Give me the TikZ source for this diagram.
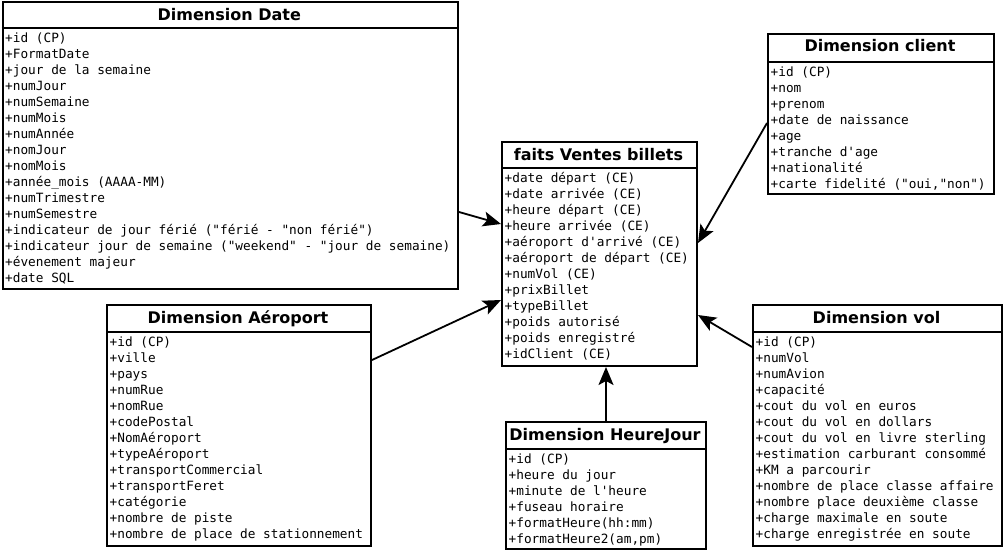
\documentclass[tikz,border=0pt]{standalone}
\usepackage{fontspec}
\setmainfont{DejaVu Sans}
\newfontfamily\attrfont{DejaVu Sans Mono}
\usetikzlibrary{arrows.meta}
\tikzset{
  box/.style={draw, line width=2pt, inner sep=0pt, anchor=north west},
  sepline/.style={line width=1.6pt},
  ctitle/.style={font=\bfseries\fontsize{16}{18}\selectfont, inner sep=0pt, anchor=base},
  attr/.style={font=\attrfont\fontsize{12.75}{16}\selectfont, inner sep=0pt, anchor=base west},
  arr/.style={line width=1.8pt, -{Stealth[length=18pt,width=15pt,inset=4pt]}}
}
% name, x1, y1, x2, y2, separator y, title, attribute list
\newcommand\UMLclass[8]{%
  \node[box, minimum width={#4-#2}, minimum height={#5-#3}] (#1) at (#2,#3) {};
  \node[ctitle] (#1-title) at ({(#2+#4)/2}, #3+19) {#7};
  \draw[sepline] (#1.west |- 0,#6) -- (#1.east |- 0,#6);
  \foreach \a [count=\i from 0] in {#8}
    \node[attr] (#1-a\i) at (#2+3.5, #6+14.5+16*\i) {\a};
}
\begin{document}
\begin{tikzpicture}[x=1pt,y=-1pt]
\useasboundingbox (0,0) rectangle (1003,551);

\UMLclass{date}{1.5}{1.5}{457}{288}{28}{Dimension Date}{+id (CP), +FormatDate, +jour de la semaine, +numJour, +numSemaine, +numMois, +numAnnée, +nomJour, +nomMois, +année\_mois (AAAA-MM), +numTrimestre, +numSemestre, +indicateur de jour férié ("férié - "non férié"), +indicateur jour de semaine ("weekend" - "jour de semaine), +évenement majeur, +date SQL}

\UMLclass{client}{767}{33}{993}{193}{62}{Dimension client}{+id (CP), +nom, +prenom, +date de naissance, +age, +tranche d\textquotesingle age, +nationalité, {+carte fidelité ("oui,"non")}}

\UMLclass{faits}{501}{141}{696}{365}{168}{faits Ventes billets}{+date départ (CE), +date arrivée (CE), +heure départ (CE), +heure arrivée (CE), +aéroport d\textquotesingle arrivé (CE), +aéroport de départ (CE), +numVol (CE), +prixBillet, +typeBillet, +poids autorisé, +poids enregistré, +idClient (CE)}

\UMLclass{aero}{106}{304}{370}{545}{332}{Dimension Aéroport}{+id (CP), +ville, +pays, +numRue, +nomRue, +codePostal, +NomAéroport, +typeAéroport, +transportCommercial, +transportFeret, +catégorie, +nombre de piste, +nombre de place de stationnement}

\UMLclass{heure}{505}{421}{705}{548}{449}{Dimension HeureJour}{+id (CP), +heure du jour, +minute de l\textquotesingle heure, +fuseau horaire, +formatHeure(hh:mm), {+formatHeure2(am,pm)}}

\UMLclass{vol}{752}{304}{1001}{545}{332}{Dimension vol}{+id (CP), +numVol, +numAvion, +capacité, +cout du vol en euros, +cout du vol en dollars, +cout du vol en livre sterling, +estimation carburant consommé, +KM a parcourir, +nombre de place classe affaire, +nombre place deuxième classe, +charge maximale en soute, +charge enregistrée en soute}

\draw[arr] (date.east |- 0,212) -- (faits.west |- 0,224);
\draw[arr] (client.west |- 0,123) -- (faits.east |- 0,243);
\draw[arr] (aero.east |- 0,360) -- (faits.west |- 0,300);
\draw[arr] (heure.north) -- (heure.north |- faits.south);
\draw[arr] (vol.west |- 0,347) -- (faits.east |- 0,315);
\end{tikzpicture}
\end{document}
